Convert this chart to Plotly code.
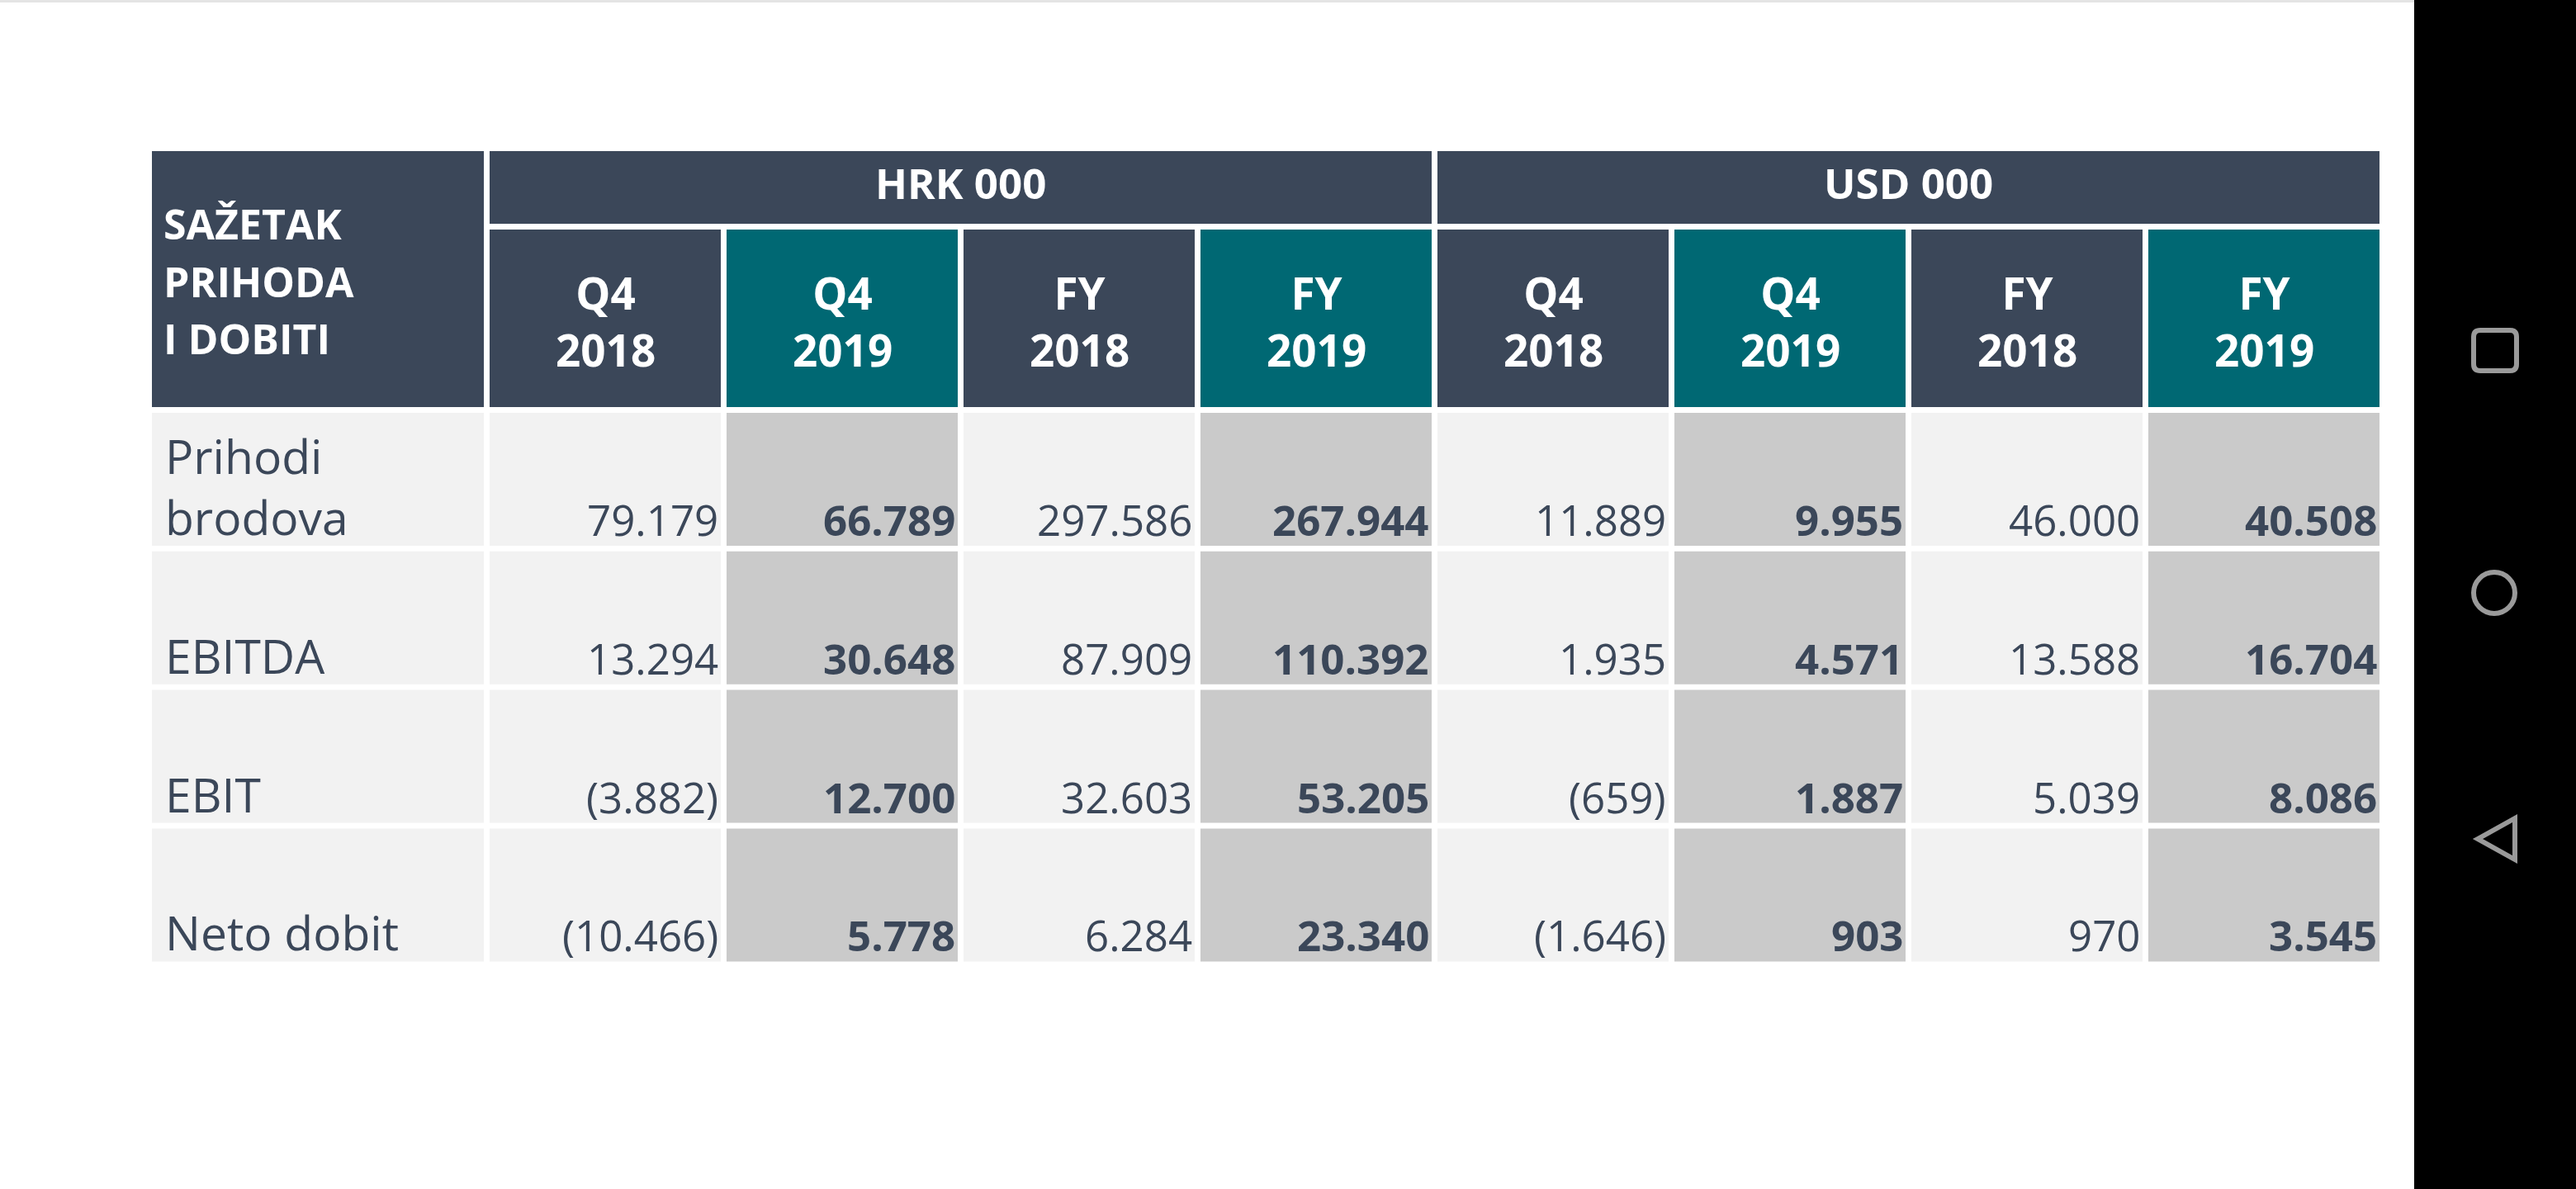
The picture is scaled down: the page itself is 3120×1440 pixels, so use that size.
import plotly.graph_objects as go

# ---------------- data ----------------
title_lines = ["SAŽETAK", "PRIHODA", "I DOBITI"]
currencies = ["HRK 000", "USD 000"]
periods = ["Q4", "Q4", "FY", "FY", "Q4", "Q4", "FY", "FY"]
years = ["2018", "2019", "2018", "2019", "2018", "2019", "2018", "2019"]
row_labels = ["Prihodi<br>brodova", "EBITDA", "EBIT", "Neto dobit"]

hrk_q4_2018 = [79179, 13294, -3882, -10466]
hrk_q4_2019 = [66789, 30648, 12700, 5778]
hrk_fy_2018 = [297586, 87909, 32603, 6284]
hrk_fy_2019 = [267944, 110392, 53205, 23340]
usd_q4_2018 = [11889, 1935, -659, -1646]
usd_q4_2019 = [9955, 4571, 1887, 903]
usd_fy_2018 = [46000, 13588, 5039, 970]
usd_fy_2019 = [40508, 16704, 8086, 3545]

columns = [hrk_q4_2018, hrk_q4_2019, hrk_fy_2018, hrk_fy_2019,
           usd_q4_2018, usd_q4_2019, usd_fy_2018, usd_fy_2019]

# ---------------- style / layout ----------------
W, H = 3120, 1440
NAVY = "#3B4759"
TEAL = "#006873"
LIGHT = "#F2F2F2"
MID = "#CACACA"
FONT = "Open Sans"

TABLE_L, LABEL_R = 184, 586
COL0, PITCH, CW = 593, 287, 280
H1_T, H1_B = 183, 271
H2_T, H2_B = 278, 493
ROW_T0, ROW_PITCH, ROW_H = 500, 167.8, 161


def fmt(v):
    s = f"{abs(v):,}".replace(",", ".")
    return f"({s})" if v < 0 else s


def cx0(i):
    return COL0 + i * PITCH


shapes = []
annos = []


def rect(x0, y0, x1, y1, color):
    shapes.append(dict(type="rect", xref="x", yref="y", x0=x0, y0=y0, x1=x1, y1=y1,
                       fillcolor=color, line=dict(width=0), layer="below"))


def text(x, y, s, size, color, bold=False, xanchor="center"):
    annos.append(dict(x=x, y=y, xref="x", yref="y", text=f"<b>{s}</b>" if bold else s,
                      showarrow=False, xanchor=xanchor, yanchor="middle",
                      align=xanchor if xanchor != "center" else "center",
                      font=dict(family=FONT, size=size, color=color)))


# top thin line and android nav bar
rect(0, 0, 2924, 3, "#E4E4E4")
rect(2924, 0, W, H, "#000000")

# label header cell
rect(TABLE_L, H1_T, LABEL_R, H2_B, NAVY)
for k, line in enumerate(title_lines):
    text(196, 271 + k * 69.5, line, 50, "white", bold=True, xanchor="left")

# currency header cells
n_per = len(periods) // len(currencies)
for c, cur in enumerate(currencies):
    x0 = cx0(c * n_per)
    x1 = cx0(c * n_per + n_per - 1) + CW
    rect(x0, H1_T, x1, H1_B, NAVY)
    text((x0 + x1) / 2, 221, cur, 51, "white", bold=True)

# period header cells
for i, (p, yv) in enumerate(zip(periods, years)):
    col = TEAL if yv == "2019" else NAVY
    rect(cx0(i), H2_T, cx0(i) + CW, H2_B, col)
    text(cx0(i) + CW / 2, 389, f"{p}<br>{yv}", 53, "white", bold=True)

# data rows
for r, lab in enumerate(row_labels):
    y0 = ROW_T0 + r * ROW_PITCH
    y1 = y0 + ROW_H
    rect(TABLE_L, y0, LABEL_R, y1, LIGHT)
    nl = lab.count("<br>")
    text(198, y1 - 35 - nl * 1.3 * 57 / 2, lab, 57, NAVY, xanchor="left")
    for i, colvals in enumerate(columns):
        hi = years[i] == "2019"
        rect(cx0(i), y0, cx0(i) + CW, y1, MID if hi else LIGHT)
        text(cx0(i) + CW - 1, y1 - 32, fmt(colvals[r]), 51, NAVY, bold=hi, xanchor="right")

# nav icons
GREY = "#9A9A9A"
shapes.append(dict(type="path", xref="x", yref="y",
                   path="M 3004,400 L 3040,400 Q 3048,400 3048,408 L 3048,441 Q 3048,449 3040,449 "
                        "L 3004,449 Q 2996,449 2996,441 L 2996,408 Q 2996,400 3004,400 Z",
                   line=dict(color=GREY, width=6), fillcolor="rgba(0,0,0,0)"))
shapes.append(dict(type="circle", xref="x", yref="y", x0=2996, y0=693, x1=3046, y1=743,
                   line=dict(color=GREY, width=6), fillcolor="rgba(0,0,0,0)"))
shapes.append(dict(type="path", xref="x", yref="y",
                   path="M 3001,1016 L 3046,991 L 3046,1041 Z",
                   line=dict(color=GREY, width=6), fillcolor="rgba(0,0,0,0)"))

fig = go.Figure()
fig.add_trace(go.Scatter(x=[0, W], y=[0, H], mode="markers", marker=dict(opacity=0),
                         hoverinfo="skip", showlegend=False))
fig.update_layout(
    width=W, height=H,
    margin=dict(l=0, r=0, t=0, b=0),
    paper_bgcolor="white", plot_bgcolor="white",
    xaxis=dict(range=[0, W], visible=False, fixedrange=True),
    yaxis=dict(range=[H, 0], visible=False, fixedrange=True),
    shapes=shapes, annotations=annos, showlegend=False,
)
fig.write_html("out.html", config={"displayModeBar": False},
               post_script="document.body.style.margin='0';document.body.style.overflow='hidden';")
